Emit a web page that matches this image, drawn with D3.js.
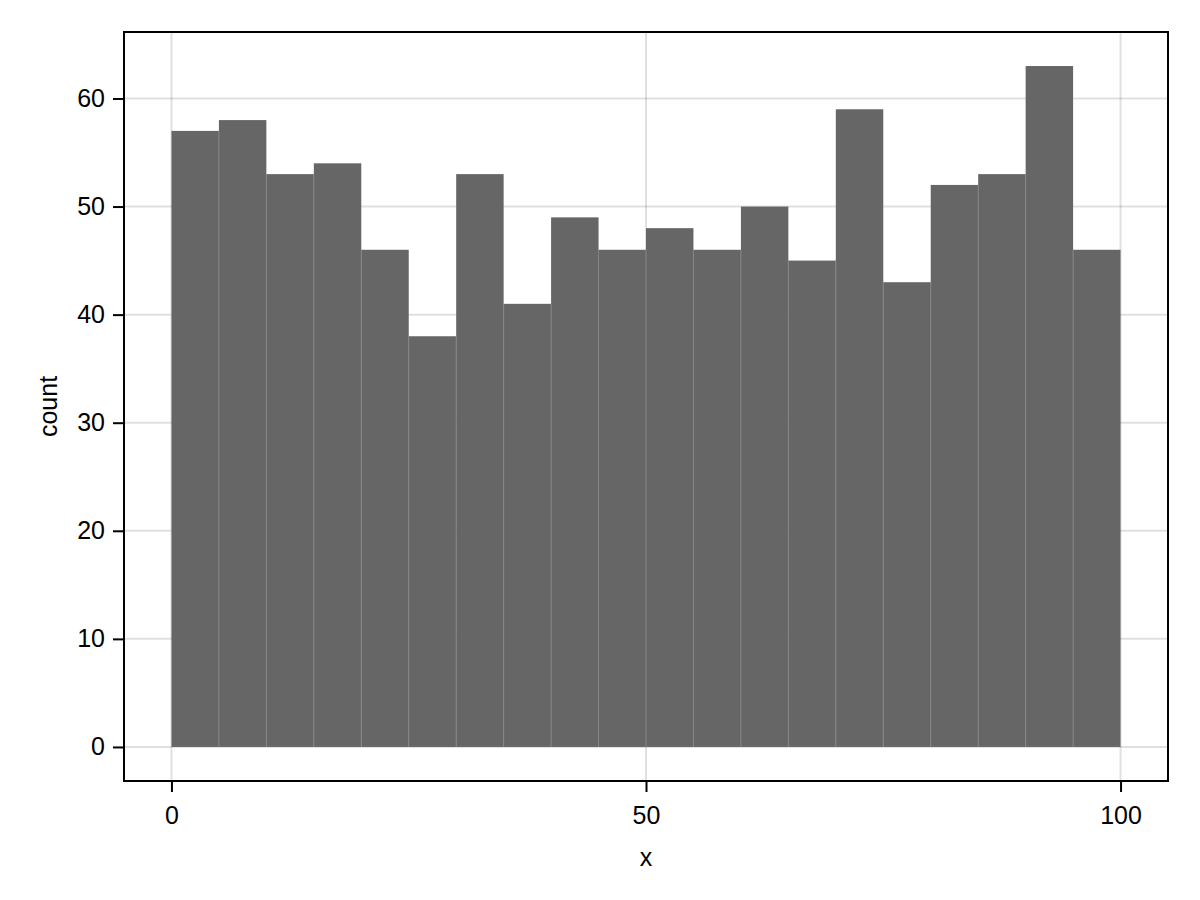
<!DOCTYPE html>
<html><head><meta charset="utf-8">
<script src="https://cdn.jsdelivr.net/npm/d3@7"></script>
<style>body{margin:0;background:#fff}svg{display:block}text{font-family:"Liberation Sans",Arial,sans-serif;fill:#000}</style>
</head><body>
<script>
const binEdges = [0,5,10,15,20,25,30,35,40,45,50,55,60,65,70,75,80,85,90,95,100];
const counts = [57,58,53,54,46,38,53,41,49,46,48,46,50,45,59,43,52,53,63,46];
const xTicks = [0,50,100];
const yTicks = [0,10,20,30,40,50,60];
const xLabel = "x", yLabel = "count";

const W=1200,H=900;
const L=124,R=1168,T=32,B=781;
const svg=d3.select("body").append("svg").attr("width",W).attr("height",H);
const x=d3.scaleLinear().domain([-5,105]).range([L,R]);
const maxC=d3.max(counts);
const y=d3.scaleLinear().domain([-0.05*maxC,maxC*1.05]).range([B,T]);
const fs=25;
// grid
svg.append("g").selectAll("line").data(xTicks).join("line")
 .attr("x1",d=>x(d)).attr("x2",d=>x(d)).attr("y1",T).attr("y2",B)
 .attr("stroke","rgba(0,0,0,0.12)").attr("stroke-width",2);
svg.append("g").selectAll("line").data(yTicks).join("line")
 .attr("y1",d=>y(d)).attr("y2",d=>y(d)).attr("x1",L).attr("x2",R)
 .attr("stroke","rgba(0,0,0,0.12)").attr("stroke-width",2);
// bars
const bins=counts.map((c,i)=>({x0:binEdges[i],x1:binEdges[i+1],c}));
svg.append("g").selectAll("rect").data(bins).join("rect")
 .attr("x",d=>x(d.x0)).attr("width",d=>x(d.x1)-x(d.x0))
 .attr("y",d=>y(d.c)).attr("height",d=>y(0)-y(d.c))
 .attr("fill","#666666");
svg.append("g").selectAll("line").data(binEdges.slice(1,-1)).join("line")
 .attr("x1",d=>x(d)).attr("x2",d=>x(d))
 .attr("y1",(d,i)=>y(Math.min(counts[i],counts[i+1]))).attr("y2",y(0))
 .attr("stroke","#858585").attr("stroke-width",1);
// frame
svg.append("rect").attr("x",L).attr("y",T).attr("width",R-L).attr("height",B-T)
 .attr("fill","none").attr("stroke","#000").attr("stroke-width",2);
// axes
const xa=d3.axisBottom(x).tickValues(xTicks).tickSize(10).tickPadding(14).tickFormat(d3.format("d"));
const gx=svg.append("g").attr("transform",`translate(0,${B+1})`).call(xa);
gx.select(".domain").remove();
gx.selectAll("line").attr("stroke","#000").attr("stroke-width",2);
gx.selectAll("text").attr("font-size",fs).attr("font-family","Liberation Sans, Arial, sans-serif");
const ya=d3.axisLeft(y).tickValues(yTicks).tickSize(10).tickPadding(8).tickFormat(d3.format("d"));
const gy=svg.append("g").attr("transform",`translate(${L-1},0)`).call(ya);
gy.select(".domain").remove();
gy.selectAll("line").attr("stroke","#000").attr("stroke-width",2);
gy.selectAll("text").attr("font-size",fs).attr("font-family","Liberation Sans, Arial, sans-serif");
svg.append("text").attr("x",(L+R)/2).attr("y",866).attr("text-anchor","middle").attr("font-size",fs).text(xLabel);
svg.append("text").attr("transform",`translate(57,${(T+B)/2}) rotate(-90)`).attr("text-anchor","middle").attr("font-size",fs).text(yLabel);
</script>
</body></html>
